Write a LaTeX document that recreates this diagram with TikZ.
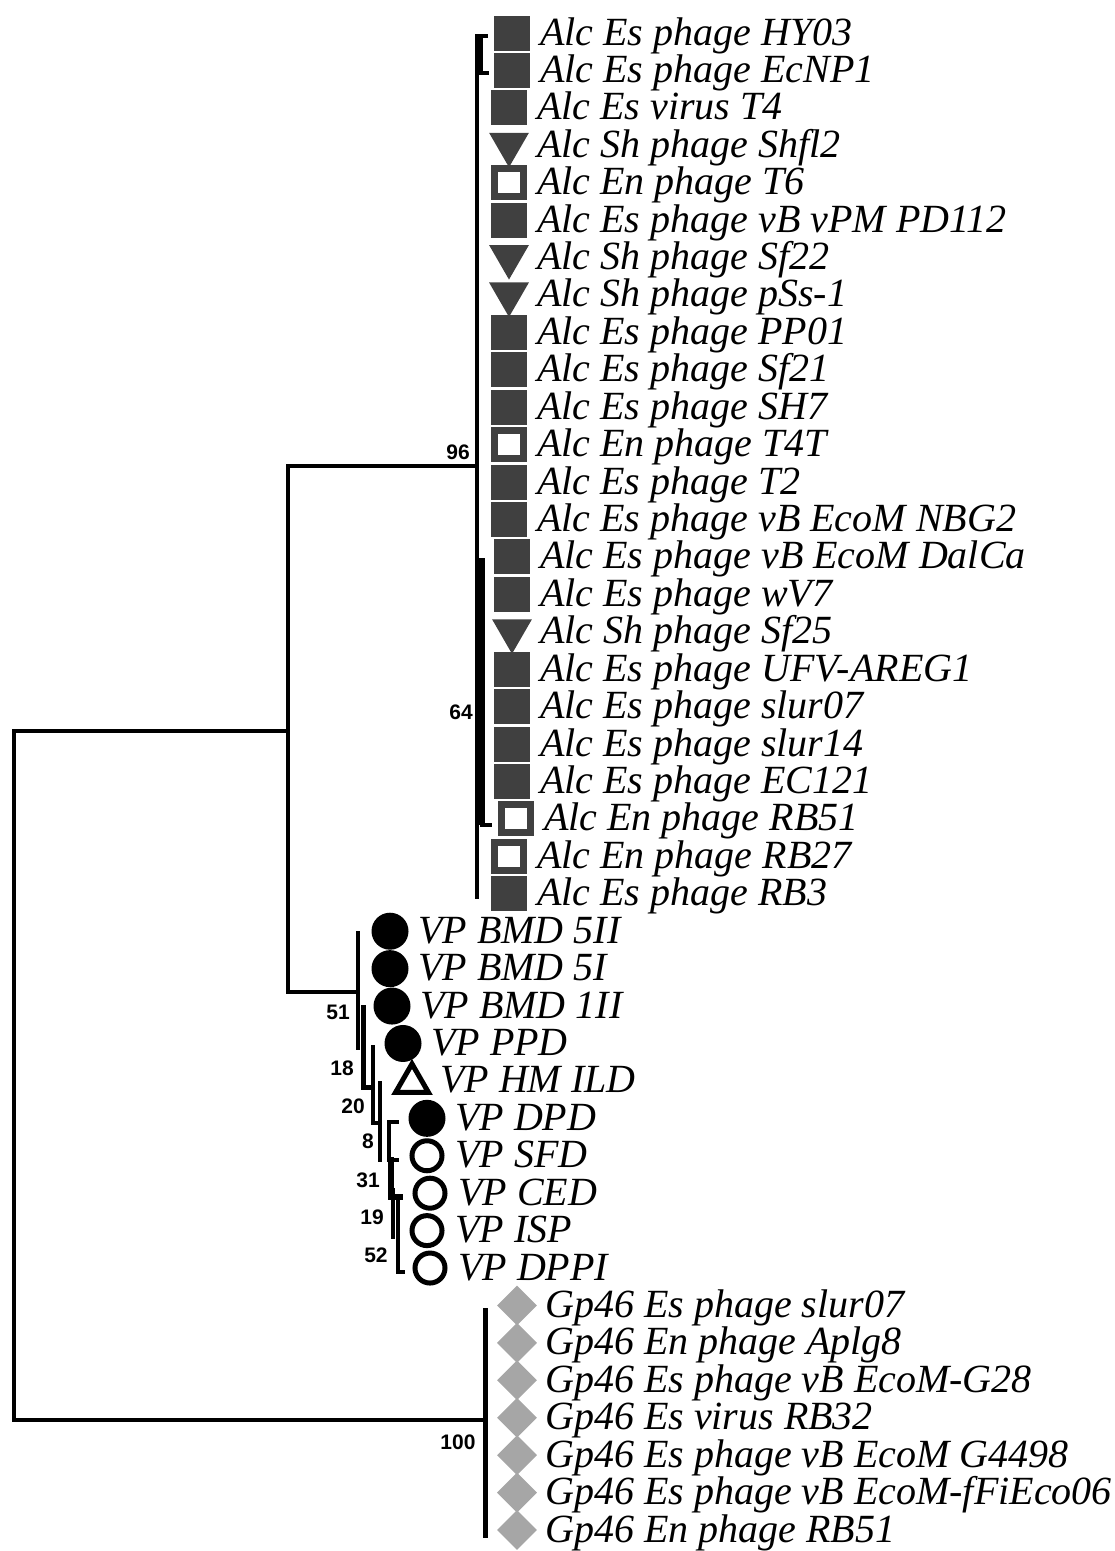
\documentclass[tikz,border=0pt]{standalone}
\usepackage{fontspec}
\setmainfont{Liberation Serif}
\newfontfamily\bootfont{Liberation Sans}
\usetikzlibrary{shapes.geometric}

\definecolor{alcgray}{HTML}{404040}
\definecolor{gpgray}{HTML}{A6A6A6}

\tikzset{
  branch/.style={line width=4pt, line cap=rect},
  fsq/.style={rectangle, fill=alcgray, minimum width=36pt, minimum height=35pt, inner sep=0pt},
  osq/.style={rectangle, draw=alcgray, fill=white, line width=7pt, minimum width=29pt, minimum height=28pt, inner sep=0pt},
  ftri/.style={regular polygon, regular polygon sides=3, shape border rotate=180, fill=alcgray, minimum size=46pt, inner sep=0pt, yshift=1pt},
  fcirc/.style={circle, fill=black, minimum size=37pt, inner sep=0pt},
  ocirc/.style={circle, draw=black, line width=5pt, minimum size=30pt, inner sep=0pt},
  otri/.style={regular polygon, regular polygon sides=3, draw=black, line width=5pt, minimum size=38pt, inner sep=0pt, yshift=-2pt},
  gdia/.style={diamond, fill=gpgray, minimum width=40pt, minimum height=40pt, inner sep=0pt},
  taxon/.style={anchor=base west, inner sep=0pt, font=\fontsize{40}{40}\selectfont\itshape},
  boot/.style={inner sep=0pt, font=\bootfont\bfseries\fontsize{21}{21}\selectfont}
}

\begin{document}
\begin{tikzpicture}[x=1pt, y=-1pt]
  \useasboundingbox (0,0) rectangle (1115,1551);

  % Draw the taxa: symbol and name in each row
  \foreach \i/\sym/\xx/\lab in {
    0/fsq/512/Alc Es phage HY03,
    1/fsq/512/Alc Es phage EcNP1,
    2/fsq/509/Alc Es virus T4,
    3/ftri/509/Alc Sh phage Shfl2,
    4/osq/509/Alc En phage T6,
    5/fsq/509/Alc Es phage vB vPM PD112,
    6/ftri/509/Alc Sh phage Sf22,
    7/ftri/509/Alc Sh phage pSs-1,
    8/fsq/509/Alc Es phage PP01,
    9/fsq/509/Alc Es phage Sf21,
    10/fsq/509/Alc Es phage SH7,
    11/osq/509/Alc En phage T4T,
    12/fsq/509/Alc Es phage T2,
    13/fsq/509/Alc Es phage vB EcoM NBG2,
    14/fsq/512/Alc Es phage vB EcoM DalCa,
    15/fsq/512/Alc Es phage wV7,
    16/ftri/512/Alc Sh phage Sf25,
    17/fsq/512/Alc Es phage UFV-AREG1,
    18/fsq/512/Alc Es phage slur07,
    19/fsq/512/Alc Es phage slur14,
    20/fsq/512/Alc Es phage EC121,
    21/osq/516/Alc En phage RB51,
    22/osq/509/Alc En phage RB27,
    23/fsq/509/Alc Es phage RB3,
    24/fcirc/390/VP BMD 5II,
    25/fcirc/390/VP BMD 5I,
    26/fcirc/392/VP BMD 1II,
    27/fcirc/403/VP PPD,
    28/otri/412/VP HM ILD,
    29/fcirc/427/VP DPD,
    30/ocirc/427/VP SFD,
    31/ocirc/430/VP CED,
    32/ocirc/427/VP ISP,
    33/ocirc/430/VP DPPI,
    34/gdia/517/Gp46 Es phage slur07,
    35/gdia/517/Gp46 En phage Aplg8,
    36/gdia/517/Gp46 Es phage vB EcoM-G28,
    37/gdia/517/Gp46 Es virus RB32,
    38/gdia/517/Gp46 Es phage vB EcoM G4498,
    39/gdia/517/Gp46 Es phage vB EcoM-fFiEco06,
    40/gdia/517/Gp46 En phage RB51} {
    \node[\sym] (sym\i) at (\xx, {33+37.425*\i}) {};
    \node[taxon] (name\i) at ({\xx+28}, {45+37.425*\i}) {\lab};
  }

  % Tree nodes
  \coordinate (root1) at (14,731);
  \coordinate (root2) at (14,1420);
  \coordinate (in1) at (288,466);
  \coordinate (in2) at (288,992);
  \coordinate (alc) at (477,466);
  \coordinate (vp) at (358,992);
  \coordinate (gp) at (485,1420);

  % Main branches
  \draw[branch] (root1) -- (root2);
  \draw[branch] (root1) -- (root1 -| in1);
  \draw[branch] (in1) -- (in2);
  \draw[branch] (in1) -- (alc);
  \draw[branch] (in2) -- (vp);
  \draw[branch] (root2) -- (gp);

  % Alc clade
  \draw[branch, line width=3.5pt] (477,36) -- (477,897);
  \draw[branch, line width=3.5pt] (477,36) -- (486,36);
  \draw[branch, line width=3.5pt] (481,36) -- (481,73) -- (487,73);
  \draw[branch, line width=6pt, line cap=butt] (482,558) -- (482,825);
  \draw[branch, line width=3.5pt] (482,825) -- (490,825);

  % VP clade
  \draw[branch] (358,933) -- (358,1048);
  \draw[branch, line width=5pt] (363,1007) -- (363,1087) -- (372,1087);
  \draw[branch] (373,1047) -- (373,1123) -- (380,1123);
  \draw[branch] (380,1083) -- (380,1160);
  \draw[branch] (397,1122) -- (389,1122) -- (389,1160) -- (397,1160);
  \draw[branch, line width=5.5pt] (391,1160) -- (391,1197) -- (400,1197);
  \draw[branch] (393,1190) -- (393,1237);
  \draw[branch] (398,1200) -- (398,1272) -- (403,1272);

  % Gp46 clade
  \draw[branch, line width=5pt] (485,1310) -- (485,1535);

  % Bootstrap values
  \node[boot] (b96) at (458,452) {96};
  \node[boot] (b64) at (461,712) {64};
  \node[boot] (b100) at (458,1442) {100};
  \foreach \bx/\by/\bv in {338/1012/51, 342/1068/18, 353/1106/20, 368/1141/8,
                           368/1180/31, 372/1217/19, 376/1255/52} {
    \node[boot] (b\bv) at (\bx,\by) {\bv};
  }
\end{tikzpicture}
\end{document}
